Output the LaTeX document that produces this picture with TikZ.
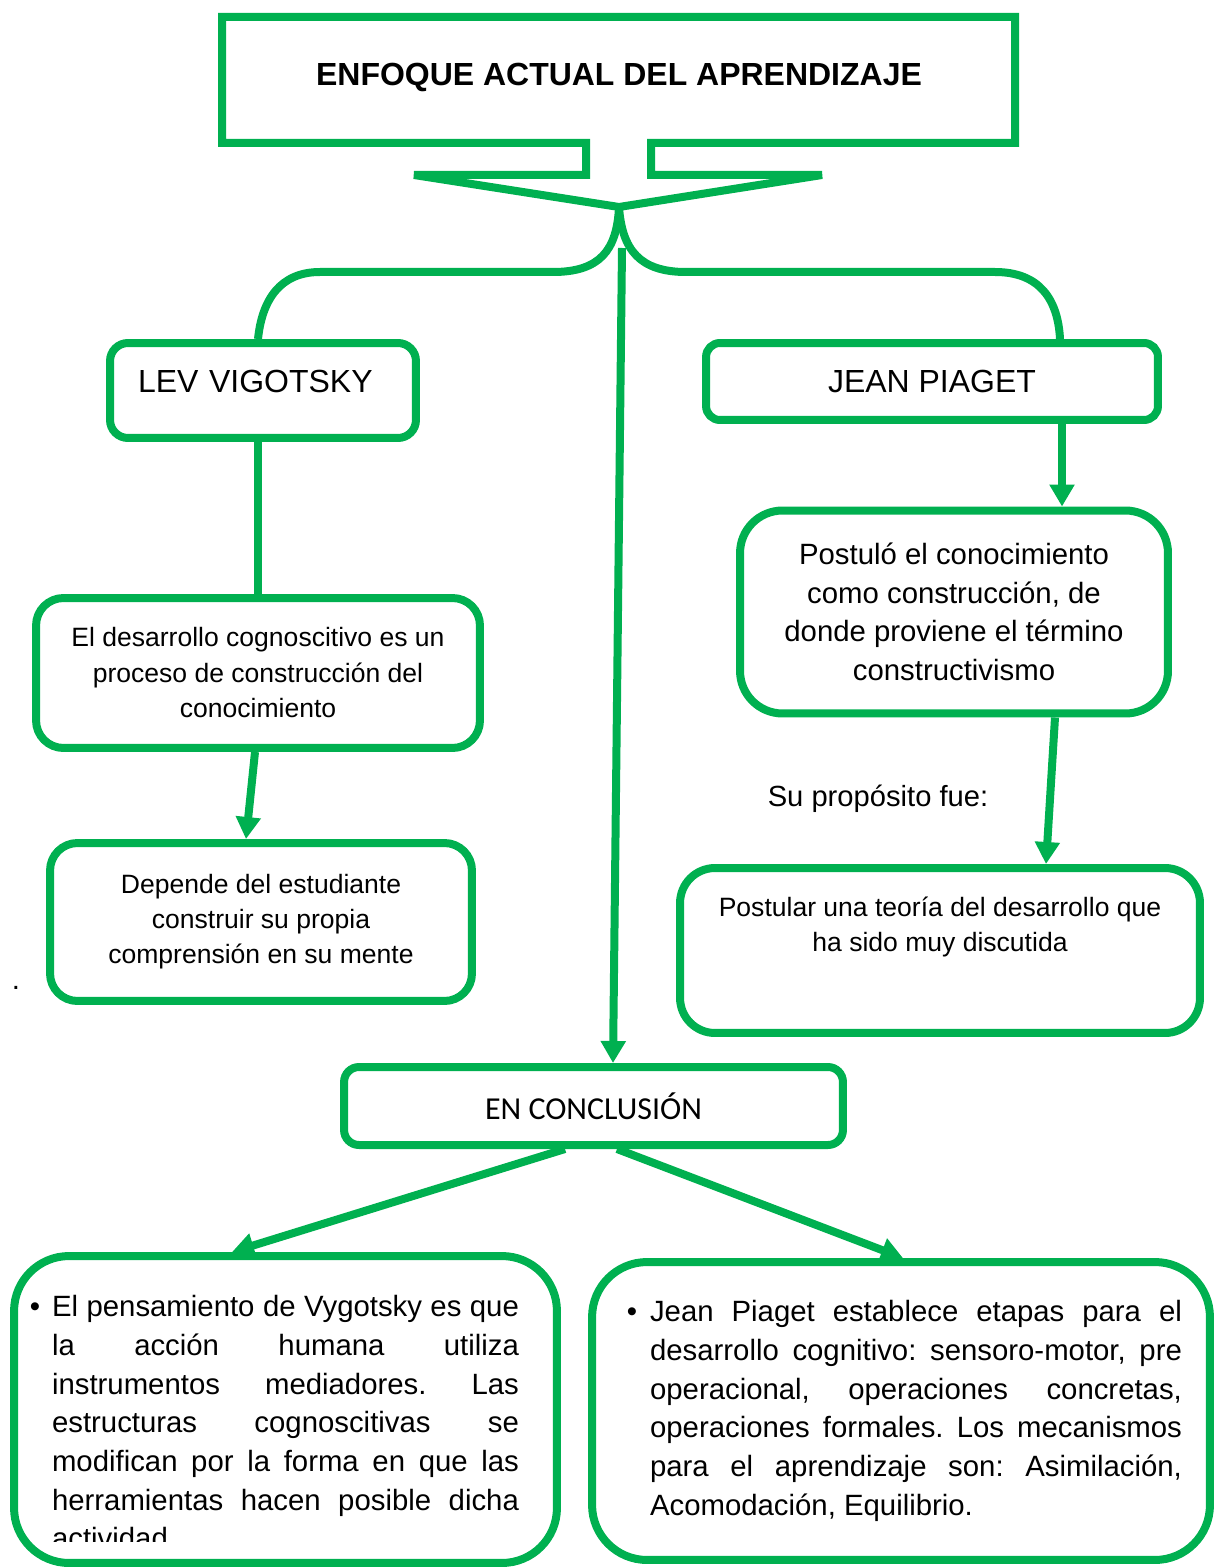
\documentclass[tikz,border=0pt]{standalone}
\usepackage{fontspec}
\setmainfont{Liberation Sans}
\newfontfamily\calibrifont{Carlito}
\usetikzlibrary{arrows.meta, positioning, calc}
\definecolor{wordgreen}{HTML}{00B050}
\tikzstyle{arrow} = [wordgreen, line width=0.16cm, -{Triangle[length=0.44cm, width=0.48cm]}]
\tikzstyle{link} = [wordgreen, line width=0.16cm]
\tolerance=9999
\hyphenpenalty=10000
\frenchspacing

\begin{document}
\begin{tikzpicture}[x=0.02cm, y=-0.02cm,
    every node/.style={align=center, inner sep=0pt},
    box/.style={draw=wordgreen, line width=0.16cm, rounded corners=#1},
    box/.default=0.5cm,
    namefont/.style={font=\fontsize{18.2}{22}\selectfont},
    smallfont/.style={font=\fontsize{15.1}{20.2}\selectfont},
    bodyfont/.style={font=\fontsize{16.7}{22}\selectfont}
  ]
    \useasboundingbox (0,0) rectangle (1215,1567);

    % Title callout
    \coordinate (Tip) at (619,207);
    \draw[link] (222,17) -- (1015,17) -- (1015,143) -- (651,143) -- (651,175) -- (822,175)
      -- (Tip) -- (414,175) -- (586,175) -- (586,143) -- (222,143) -- cycle;
    \node[font=\fontsize{18.2}{22}\selectfont\bfseries] (Title) at (619,77) {ENFOQUE ACTUAL DEL APRENDIZAJE};

    % Authors
    \node[box=0.36cm, namefont, minimum width=6.12cm, minimum height=1.9cm, text width=5cm, align=left]
      (Lev) at (263,390.5) {\raisebox{5.4pt}[\height][\depth]{LEV VIGOTSKY}};
    \node[box=0.28cm, namefont, minimum width=9.04cm, minimum height=1.54cm] (Piaget) at (932,381.5) {JEAN PIAGET};

    % Brace from the callout to both authors
    \draw[link] (Tip) .. controls (617,250) and (600,272) .. (553,272) -- (320,272)
      .. controls (280,272) and (262,300) .. ($(Lev.north)+(-5,0)$);
    \draw[link] (Tip) .. controls (622,250) and (640,272) .. (686,272) -- (995,272)
      .. controls (1040,272) and (1058,300) .. ($(Piaget.north)+(128,0)$);

    % Vigotsky branch
    \node[box=0.55cm, smallfont, minimum width=8.88cm, minimum height=3cm] (LevA) at (258,673)
      {El desarrollo cognoscitivo es un\\proceso de construcción del\\conocimiento};
    \node[box=0.55cm, font=\fontsize{15.1}{19.9}\selectfont, minimum width=8.44cm, minimum height=3.16cm] (LevB) at (261,922)
      {Depende del estudiante\\construir su propia\\comprensión en su mente};
    \node[bodyfont, anchor=base] (Dot) at (16,989) {.};

    % Piaget branch
    \node[box=0.85cm, font=\fontsize{16.7}{21.9}\selectfont, minimum width=8.56cm, minimum height=4.06cm] (PiaA) at (954,612)
      {Postuló el conocimiento\\como construcción, de\\donde proviene el término\\constructivismo};
    \node[font=\fontsize{16.6}{20}\selectfont] (Purpose) at (878,799) {Su propósito fue:};
    \node[box=0.7cm, font=\fontsize{15.1}{19.9}\selectfont, minimum width=10.4cm, minimum height=3.3cm] (PiaB) at (940,950.5)
      {Postular una teoría del desarrollo que\\ha sido muy discutida\\[10pt]\mbox{}};

    % Conclusion
    \node[box=0.3cm, font=\calibrifont\fontsize{18.2}{22}\selectfont, minimum width=9.98cm, minimum height=1.56cm] (Concl) at (593.5,1106) {EN CONCLUSIÓN};

    \begin{scope}
      % last line is cut off by the page
      \clip (0,0) rectangle (1215,1541) (0,1552) rectangle (1215,1567)
        (0,1539) rectangle (46,1554) (524,1539) rectangle (1215,1554);
      \node[box=1.1cm, bodyfont, minimum width=10.86cm, minimum height=6.14cm, text width=9.34cm, align=justify] (ConA) at (285.5,1409.5)
        {\leavevmode\rule{0pt}{26.6pt}\llap{\textbullet\hspace{6.8pt}}El pensamiento de Vygotsky es que\linebreak
         la acción humana utiliza\linebreak
         instrumentos mediadores. Las\linebreak
         estructuras cognoscitivas se\linebreak
         modifican por la forma en que las\linebreak
         herramientas hacen posible dicha\linebreak
         actividad};
    \end{scope}
    \node[box=1.1cm, bodyfont, minimum width=12.36cm, minimum height=5.96cm] (ConB) at (901,1411)
      {\hspace*{0.6cm}\parbox{10.64cm}{\leavevmode\llap{\textbullet\hspace{7.4pt}}Jean Piaget establece etapas para el\linebreak
       desarrollo cognitivo: sensoro-motor, pre\linebreak
       operacional, operaciones concretas,\linebreak
       operaciones formales. Los mecanismos\linebreak
       para el aprendizaje son: Asimilación,\linebreak
       Acomodación, Equilibrio.}};

    % Connectors
    \draw[link] (Lev.south -| LevA.north) -- (LevA.north);
    \draw[arrow] ($(LevA.south)+(-3,0)$) -- ($(LevB.north)+(-15,0)$);
    \draw[arrow] ($(Piaget.south)+(130,0)$) -- ($(PiaA.north)+(108,0)$);
    \draw[arrow] ($(PiaA.south)+(101,0)$) -- ($(PiaB.north)+(106,0)$);
    \coordinate (Stem) at (622,248);
    \draw[arrow] (Stem) -- ($(Concl.north)+(19.5,0)$);
    \draw[arrow] ($(Concl.south)+(-28.5,0)$) -- ($(ConA.north)+(-53.5,0)$);
    \draw[arrow] ($(Concl.south)+(23.5,0)$) -- ($(ConB.north)+(2,0)$);
\end{tikzpicture}
\end{document}
